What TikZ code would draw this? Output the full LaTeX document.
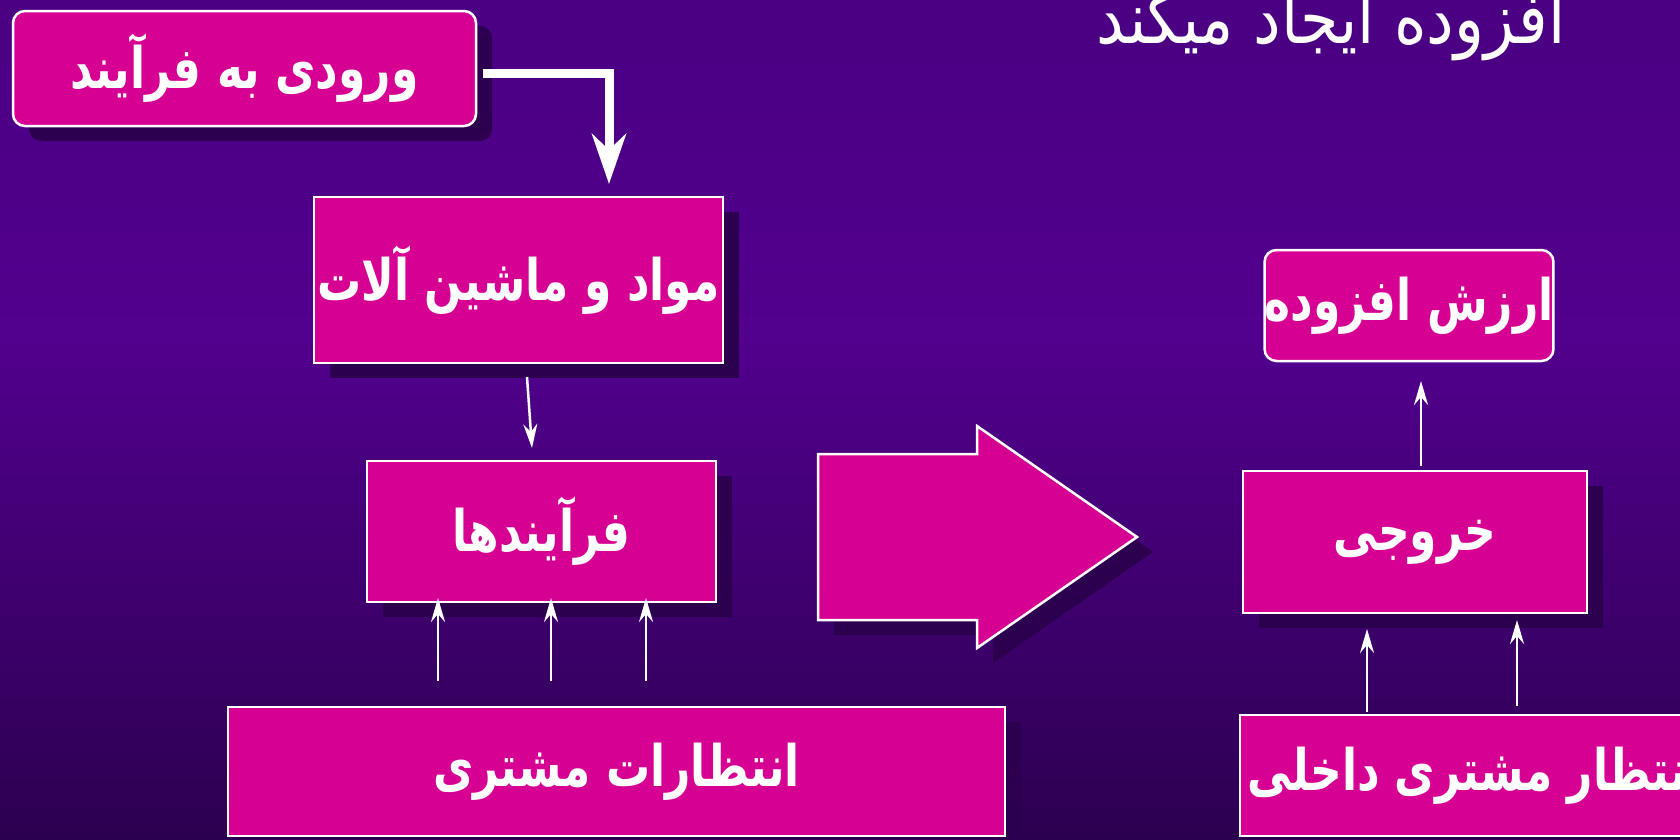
\documentclass[tikz,border=0pt]{standalone}
\usepackage{fontspec}
\usepackage{graphicx}
\usetikzlibrary{arrows.meta,shadows,calc}
\newfontfamily\fa[Script=Arabic]{DejaVu Sans}
\TeXXeTstate=1
\newcommand{\fatext}[1]{\scalebox{1}[1.3]{\beginR #1\endR}}
\definecolor{boxc}{RGB}{214,0,147}
\definecolor{shd}{RGB}{44,0,78}
\definecolor{bgtop}{RGB}{75,0,132}
\definecolor{bgmid}{RGB}{82,0,142}
\definecolor{bgbot}{RGB}{44,0,80}
\pgfdeclareverticalshading{bgshade}{100bp}{color(0bp)=(bgbot); color(25bp)=(bgbot); color(55bp)=(bgmid); color(72bp)=(bgtop); color(100bp)=(bgtop)}
\tikzset{
  box/.style={draw=white, line width=2.5pt, fill=boxc, text=white, inner sep=0pt,
    font={\fa\bfseries\fontsize{44}{52}\selectfont},
    drop shadow={shadow xshift=16pt, shadow yshift=-15pt, fill=shd, opacity=1}},
  plainbox/.style={draw=white, line width=2.5pt, fill=boxc, text=white, inner sep=0pt,
    font={\fa\bfseries\fontsize{44}{52}\selectfont}},
  arw/.style={draw=white, line width=2.5pt, -{Stealth[length=24pt,width=14pt,inset=8pt]}},
  bigarw/.style={draw=white, line width=9pt, -{Stealth[length=50pt,width=34pt,inset=16pt]}},
}
\begin{document}
\begin{tikzpicture}[x=1pt,y=-1pt]
\shade[shading=bgshade] (0,0) rectangle (1680,839);
\useasboundingbox (0,0) rectangle (1680,839);

% title
\node[text=white, font={\fa\fontsize{62}{70}\selectfont}, anchor=base, inner sep=0pt] (title) at (1331,43) {\scalebox{1}[1.15]{\beginR افزوده ایجاد میکند\endR}};

% boxes
\node[box, rounded corners=12pt, minimum width=463pt, minimum height=115pt] (b1) at (244.5,68.5) {\fatext{ورودی به فرآیند}};
\node[box, minimum width=409pt, minimum height=166pt] (b2) at (518.5,280) {\fatext{مواد و ماشین آلات}};
\node[box, minimum width=349pt, minimum height=141pt] (b3) at (541.5,531.5) {\fatext{فرآیندها}};
\node[box, minimum width=777pt, minimum height=129pt] (b4) at (616.5,771.5) {\fatext{انتظارات مشتری}};
\node[box, minimum width=344pt, minimum height=142pt] (b5) at (1415,542) {\fatext{خروجی}};
\node[plainbox, rounded corners=12pt, minimum width=286pt, minimum height=111pt] (b6) at (1409,305.5) {\fatext{ارزش افزوده}};
\node[box, minimum width=470pt, minimum height=121pt] (b7) at (1475,775.5) {\fatext{انتظار مشتری داخلی}};

% big arrow
\fill[shd, shift={(16,15)}] (818,454) -- (977,454) -- (977,426) -- (1137,537) -- (977,648) -- (977,620) -- (818,620) -- cycle;
\filldraw[fill=boxc, draw=white, line width=2.5pt] (818,454) -- (977,454) -- (977,426) -- (1137,537) -- (977,648) -- (977,620) -- (818,620) -- cycle;

% connectors
\coordinate (t1) at (609,184);
\draw[bigarw] ($(b1.east)+(6,5)$) -| (t1);

\coordinate (a1s) at (527,377); \coordinate (a1e) at (532,448);
\draw[arw] (a1s) -- (a1e);

\coordinate (u1s) at (438,681); \coordinate (u1e) at (438,598);
\coordinate (u2s) at (551,681); \coordinate (u2e) at (551,598);
\coordinate (u3s) at (646,681); \coordinate (u3e) at (646,598);
\draw[arw] (u1s) -- (u1e);
\draw[arw] (u2s) -- (u2e);
\draw[arw] (u3s) -- (u3e);

\coordinate (r1s) at (1421,466); \coordinate (r1e) at (1421,381);
\draw[arw] (r1s) -- (r1e);
\coordinate (r2s) at (1367,712); \coordinate (r2e) at (1367,629);
\coordinate (r3s) at (1517,706); \coordinate (r3e) at (1517,620);
\draw[arw] (r2s) -- (r2e);
\draw[arw] (r3s) -- (r3e);
\end{tikzpicture}
\end{document}
